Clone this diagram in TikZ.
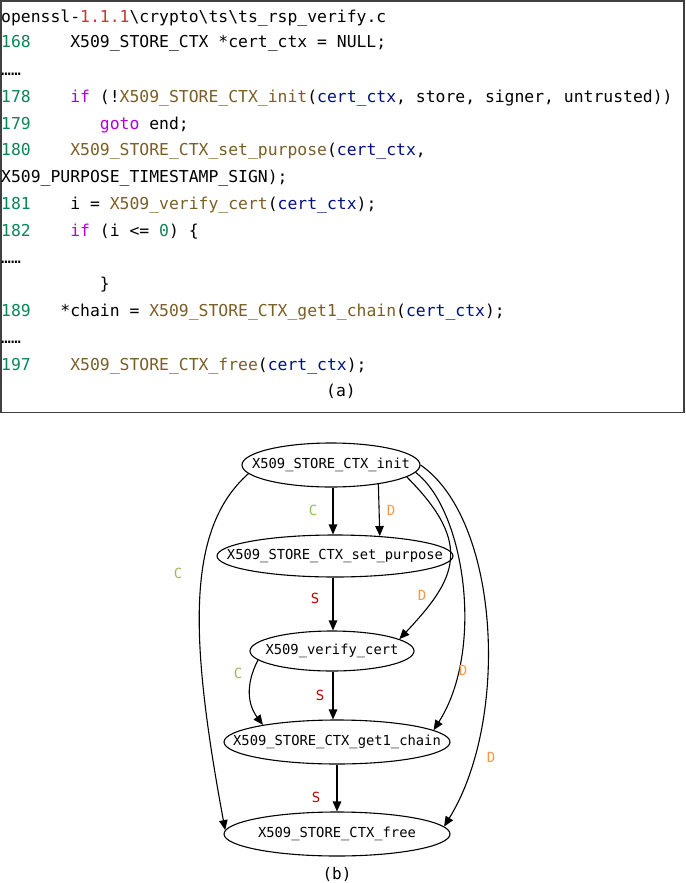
\documentclass[tikz,border=0pt]{standalone}
\usepackage{fontspec}
\usetikzlibrary{shapes.geometric,arrows.meta}
\newfontfamily\codefont{DejaVu Sans Mono}[WordSpace={1,0,0}]
\definecolor{lnum}{HTML}{098658}
\definecolor{fun}{HTML}{795E26}
\definecolor{var}{HTML}{001080}
\definecolor{kw}{HTML}{AF00DB}
\definecolor{ver}{HTML}{CC3333}
\definecolor{cC}{HTML}{9BBB59}
\definecolor{cD}{HTML}{F79646}
\definecolor{cS}{HTML}{C00000}
\definecolor{framecol}{HTML}{404040}
\newcommand\cnum[1]{\textcolor{lnum}{#1}}
\newcommand\cfun[1]{\textcolor{fun}{#1}}
\newcommand\cvar[1]{\textcolor{var}{#1}}
\newcommand\ckw[1]{\textcolor{kw}{#1}}
\newcommand\cred[1]{\textcolor{ver}{#1}}
\newcommand\csp[1]{\hspace*{#1\fontcharwd\font`0}}
\newcommand\zb[1]{\makebox[0pt]{#1}}
\frenchspacing
\tikzset{
  code/.style={anchor=base west, inner sep=0pt, font=\codefont\fontsize{16.4}{20}\selectfont},
  fn/.style={draw, ellipse, inner sep=0pt, line width=1.1pt, font=\codefont\fontsize{13.8}{16}\selectfont},
  arr/.style={line width=1.1pt, -{Triangle[length=10pt,width=8.5pt]}},
  lab/.style={inner sep=0pt, font=\codefont\fontsize{14}{16}\selectfont},
  frame/.style={draw=framecol, line width=1.5pt},
}
\begin{document}
\begin{tikzpicture}[x=1pt,y=-1pt]
\useasboundingbox (0,0) rectangle (685,883);
\draw[frame] (0.8,0.8) rectangle (684,412.5);
% code listing
\node[code] (l0) at (1,23) {openssl-\cred{1.1.1}\textbackslash crypto\textbackslash ts\textbackslash ts\_rsp\_verify.c};
\node[code] (l1) at (1,48) {\cnum{168}\csp{4}X509\_STORE\_CTX *cert\_ctx = NULL;};
\node[code] (l2) at (1,75) {……};
\node[code] (l3) at (1,102) {\cnum{178}\csp{4}\ckw{if} (!\cfun{X509\_STORE\_CTX\_init}(\cvar{cert\_ctx}, store, signer, untrusted))};
\node[code] (l4) at (1,129) {\cnum{179}\csp{7}\ckw{goto} end;};
\node[code] (l5) at (1,155) {\cnum{180}\csp{4}\cfun{X509\_STORE\_CTX\_set\_purpose}(\cvar{cert\_ctx},};
\node[code] (l6) at (1,182) {X509\_PURPOSE\_TIMESTAMP\_SIGN);};
\node[code] (l7) at (1,209) {\cnum{181}\csp{4}i = \cfun{X509\_verify\_cert}(\cvar{cert\_ctx});};
\node[code] (l8) at (1,236) {\cnum{182}\csp{4}\ckw{if} (i <= \cnum{0}) \{};
\node[code] (l9) at (1,263) {……};
\node[code] (l10) at (1,289) {\csp{10}\}};
\node[code] (l11) at (1,316) {\cnum{189}\csp{3}*chain = \cfun{X509\_STORE\_CTX\_get1\_chain}(\cvar{cert\_ctx});};
\node[code] (l12) at (1,343) {……};
\node[code] (l13) at (1,370) {\cnum{197}\csp{4}\cfun{X509\_STORE\_CTX\_free}(\cvar{cert\_ctx});};
\node[code, anchor=base] (capa) at (341,396) {(a)};
% graph
\node[fn, minimum width=178pt, minimum height=44pt] (init) at (331,465) {\zb{X509\_STORE\_CTX\_init}};
\node[fn, minimum width=236pt, minimum height=42pt] (setp) at (335,556) {\zb{X509\_STORE\_CTX\_set\_purpose}};
\node[fn, minimum width=164pt, minimum height=40pt] (verify) at (332,651) {\zb{X509\_verify\_cert}};
\node[fn, minimum width=226pt, minimum height=44pt] (chain) at (337,742) {\zb{X509\_STORE\_CTX\_get1\_chain}};
\node[fn, minimum width=226pt, minimum height=44pt] (free) at (337,834) {\zb{X509\_STORE\_CTX\_free}};
\node[fn, draw=none, anchor=base, font=\codefont\fontsize{16}{18}\selectfont] (capb) at (337,879) {(b)};
% edges
\draw[arr] ([xshift=2pt]init.south) -- ([xshift=-2pt]setp.north);
\draw[arr] (init.-22.6) -- (setp.24.5);
\draw[arr] ([xshift=-2pt]setp.south) -- ([xshift=1pt]verify.north);
\draw[arr] (init.-9) .. controls (475,545) and (455,580) .. (verify.10);
\draw[arr] (init.-5) .. controls (465,510) and (485,650) .. (chain.7);
\draw[arr] (init.0) .. controls (500,520) and (510,720) .. (free.4);
\draw[arr] (init.186) .. controls (185,530) and (190,640) .. (free.178);
\draw[arr] (verify.187) .. controls (245,685) and (248,705) .. (chain.167);
\draw[arr] ([xshift=1pt]verify.south) -- ([xshift=-4pt]chain.north);
\draw[arr] (chain.south) -- (free.north);
% edge labels
\node[lab, text=cC] (t1) at (313,510) {C};
\node[lab, text=cD] (t2) at (391,510) {D};
\node[lab, text=cS] (t3) at (315,598) {S};
\node[lab, text=cD] (t4) at (422,595) {D};
\node[lab, text=cD] (t5) at (463,670) {D};
\node[lab, text=cD] (t6) at (491,757) {D};
\node[lab, text=cC] (t7) at (178,573) {C};
\node[lab, text=cC] (t8) at (238,673) {C};
\node[lab, text=cS] (t9) at (320,695) {S};
\node[lab, text=cS] (t10) at (316,797) {S};
\end{tikzpicture}
\end{document}
